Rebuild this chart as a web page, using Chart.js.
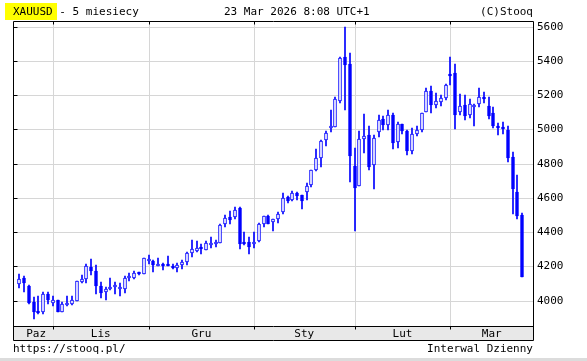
<!DOCTYPE html>
<html>
<head>
<meta charset="utf-8">
<script src="https://cdn.jsdelivr.net/npm/chart.js@4/dist/chart.umd.min.js"></script>
<style>
  html, body { margin:0; padding:0; background:#fff; }
  #wrap { position:relative; width:587px; height:361px; overflow:hidden; }
  canvas { position:absolute; left:0; top:0; }
  .t { position:absolute; font-family:"DejaVu Sans Mono", monospace; font-size:11px; line-height:13px; color:#000; white-space:pre; }
  #hl { position:absolute; left:5px; top:3px; width:52px; height:17px; background:#ffff00; }
  #sep { position:absolute; left:0; top:358px; width:587px; height:3px; background:#dcdcdc; }
</style>
</head>
<body>
<div id="wrap">
  <canvas id="c" width="587" height="361"></canvas>
  <div id="hl"></div>
  <div class="t" style="left:13px; top:5px;">XAUUSD - 5 miesiecy</div>
  <div class="t" style="left:224px; top:5px;">23 Mar 2026 8:08 UTC+1</div>
  <div class="t" style="right:54px; top:5px;">(C)Stooq</div>
  <div class="t" style="left:13px; top:342px;">https://stooq.pl/</div>
  <div class="t" style="right:54px; top:342px;">Interwal Dzienny</div>
  <div id="sep"></div>
</div>
<script>
// ---- data (XAUUSD daily candles) ----
const openV  = [4095,4134,4087,3994,3942,3936,4041,3984,4004,3932,3973,3981,3996,4111,4126,4198,4175,4085,4050,4066,
                4078,4070,4068,4130,4132,4161,4157,4229,4233,4205,4208,4210,4202,4190,4206,4223,4276,4292,4305,4298,
                4323,4332,4335,4446,4489,4491,4540,4333,4343,4328,4350,4446,4493,4458,4475,4520,4606,4587,4628,4616,
                4632,4673,4762,4835,4936,5006,5012,5163,5425,5380,4788,4668,4945,4968,4791,4984,5058,5026,5085,4927,
                5032,4993,4872,4972,4995,5104,5225,5141,5161,5182,5320,5328,5100,5145,5083,5132,5149,5192,5139,5097,
                5021,5006,4999,4837,4637,4502];
const highV  = [4155,4146,4093,4023,4029,4049,4049,4029,4004,3992,4025,4029,4115,4148,4216,4245,4208,4107,4080,4134,
                4111,4105,4142,4163,4175,4169,4251,4268,4239,4247,4219,4262,4216,4219,4239,4286,4354,4348,4329,4348,
                4372,4354,4448,4499,4524,4546,4546,4401,4372,4401,4456,4497,4499,4479,4520,4628,4612,4641,4632,4616,
                4688,4762,4885,4940,4989,5112,5192,5425,5596,5448,4889,4993,5091,5022,4966,5087,5081,5116,5098,5046,
                5032,4999,5011,5021,5097,5239,5251,5213,5202,5268,5420,5379,5204,5198,5175,5151,5239,5221,5192,5128,
                5040,5046,5017,4870,4736,4514];
const lowV   = [4072,4049,3979,3891,3920,3920,3979,3967,3932,3932,3967,3975,3996,4103,4101,4148,4037,4014,4002,4060,
                4041,4025,4043,4115,4128,4150,4157,4212,4165,4200,4177,4200,4184,4169,4184,4210,4257,4286,4272,4294,
                4309,4311,4335,4432,4448,4475,4300,4325,4274,4309,4345,4432,4446,4407,4456,4507,4573,4579,4585,4538,
                4585,4661,4760,4778,4901,4983,5012,5155,5112,4690,4409,4668,4861,4761,4654,4954,4995,4995,4884,4890,
                4972,4849,4855,4964,4983,5100,5093,5124,5136,5169,5262,5001,5087,5054,5065,5017,5128,5153,5059,5011,
                4970,4976,4808,4508,4479,4136];
const closeV = [4126,4103,3986,3932,3928,4041,4006,4004,3932,3983,3977,4006,4115,4124,4200,4171,4085,4043,4070,4080,
                4082,4078,4134,4136,4163,4153,4249,4233,4206,4207,4204,4200,4188,4208,4227,4280,4300,4305,4301,4335,
                4337,4334,4442,4481,4473,4528,4329,4331,4315,4330,4450,4493,4450,4475,4507,4598,4579,4628,4614,4581,
                4671,4762,4835,4934,4979,5012,5180,5415,5376,4843,4655,4945,4962,4779,4950,5056,5024,5085,4919,5032,
                4989,4874,4974,4999,5097,5227,5143,5163,5184,5260,5311,5083,5137,5077,5149,5134,5190,5176,5077,5017,
                5007,5004,4831,4650,4492,4136];
const monthNames = ['Paz','Lis','Gru','Sty','Lut','Mar'];
const monthStart = [7, 27, 49, 70, 90];           // index of first session of each new month
const yTicks = [4000,4200,4400,4600,4800,5000,5200,5400,5600];

// ---- chart ----
const BLUE = '#0000ff';
const GRID = '#d6d6d6';
const FONT = 'DejaVu Sans Mono';
const X_MIN = -1.32, X_MAX = 107.25;
const idx = openV.map((_, i) => i);

const frame = {
  id: 'frame',
  afterDraw(chart) {
    const { ctx, chartArea: a, scales } = chart;
    const L = Math.round(a.left) + 0.5, R = Math.round(a.right) + 0.5, T = Math.round(a.top) + 0.5;
    const PB = Math.round(a.bottom) + 0.5, B = Math.round(scales.xm.bottom) - 0.5;
    ctx.save();
    ctx.strokeStyle = '#000';
    ctx.lineWidth = 1;
    ctx.beginPath();
    ctx.moveTo(L, B); ctx.lineTo(L, T); ctx.lineTo(R, T); ctx.lineTo(R, B); ctx.lineTo(L, B);
    ctx.moveTo(L, PB); ctx.lineTo(R, PB);
    monthStart.forEach(i => {
      const x = Math.round(scales.x.getPixelForValue(i)) + 0.5;
      ctx.moveTo(x, T); ctx.lineTo(x, T + 3);
      ctx.moveTo(x, PB); ctx.lineTo(x, PB + 3);
    });
    yTicks.forEach(v => {
      const y = Math.round(scales.y.getPixelForValue(v)) + 0.5;
      ctx.moveTo(L, y); ctx.lineTo(L + 4, y);
    });
    ctx.stroke();
    ctx.restore();
  }
};

new Chart(document.getElementById('c'), {
  type: 'bar',
  data: {
    datasets: [
      {
        label: 'body',
        data: idx.map(i => ({ x: i, y: [openV[i], closeV[i]] })),
        backgroundColor: idx.map(i => closeV[i] >= openV[i] ? '#ffffff' : BLUE),
        borderColor: BLUE,
        borderWidth: 1,
        borderSkipped: false,
        barThickness: 3,
        minBarLength: 2,
        grouped: false,
        order: 0
      },
      {
        label: 'wick',
        data: idx.map(i => ({ x: i, y: [lowV[i], highV[i]] })),
        backgroundColor: BLUE,
        borderWidth: 0,
        barThickness: 1,
        grouped: false,
        order: 1
      }
    ]
  },
  options: {
    responsive: false,
    devicePixelRatio: 1,
    animation: false,
    layout: { padding: { left: 13, top: 21, right: 0, bottom: 20 } },
    plugins: { legend: { display: false }, tooltip: { enabled: false } },
    scales: {
      x: {
        type: 'linear', position: 'bottom', min: X_MIN, max: X_MAX, offset: false,
        afterBuildTicks: s => { s.ticks = monthStart.map(v => ({ value: v })); },
        ticks: { display: false },
        grid: { color: GRID, drawTicks: false, lineWidth: 1, offset: false },
        border: { display: false },
        alignToPixels: true,
        afterFit: s => { s.height = 0; }
      },
      xm: {
        type: 'linear', position: 'bottom', min: X_MIN, max: X_MAX, offset: false,
        backgroundColor: '#e8e8e8',
        afterBuildTicks: s => {
          const b = [0, ...monthStart, s.max];
          s.ticks = monthNames.map((_, k) => ({ value: (b[k] + b[k + 1]) / 2 }));
        },
        ticks: {
          callback: (v, k) => monthNames[k],
          color: '#000', font: { family: FONT, size: 11 }, padding: 2, maxRotation: 0, autoSkip: false
        },
        grid: { display: false, drawTicks: false, offset: false },
        border: { display: false },
        afterFit: s => { s.height = 15; }
      },
      y: {
        position: 'right', min: 3852, max: 5633,
        afterBuildTicks: s => { s.ticks = yTicks.map(v => ({ value: v })); },
        ticks: { color: '#000', font: { family: FONT, size: 11 }, padding: 4, callback: v => String(v) },
        grid: { color: GRID, drawTicks: false, lineWidth: 1 },
        border: { display: false },
        alignToPixels: true,
        afterFit: s => { s.width = 54; }
      }
    }
  },
  plugins: [frame]
});
</script>
</body>
</html>
